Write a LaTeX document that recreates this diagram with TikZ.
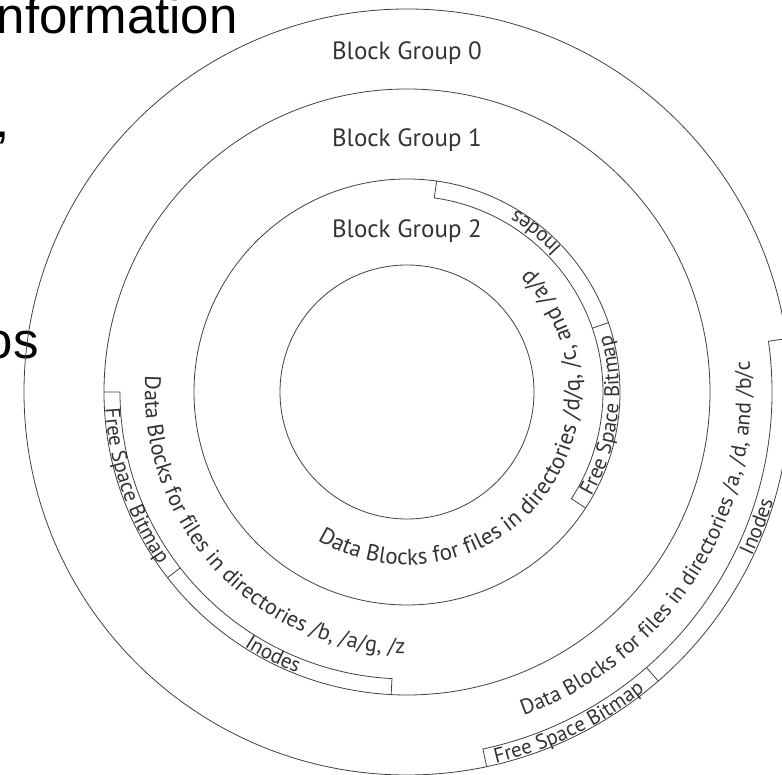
\documentclass[tikz,border=0pt]{standalone}
\usepackage{fontspec}
\setmainfont{PT Sans}
\newfontfamily\slidefont{Liberation Sans}
\usetikzlibrary{decorations.text}

% font used for the labels that run along the rings
\newcommand\ringfont[1]{\fontsize{#1}{#1}\selectfont}

\begin{document}
\begin{tikzpicture}[x=1pt,y=1pt,
  ring/.style={draw=black!75, line width=0.8pt},
  bandline/.style={draw=black!75, line width=0.8pt},
  grouplabel/.style={font=\fontsize{25}{30}\selectfont, text=black!80, anchor=base, inner sep=0pt},
  slide/.style={font=\slidefont\fontsize{51}{60}\selectfont, text=black, inner sep=0pt},
  arclabel/.style 2 args={decorate, decoration={text along path, text={|\ringfont{#1}|#2},
      text align=center, text color=black!80}}
]
\useasboundingbox (-407,-383) rectangle (375,392);

% fragments of slide text behind the diagram
\node[slide, anchor=base west] (title) at (-410.5,358) {nformation};
\node[slide, anchor=base west] (comma) at (-412,254.5) {,};
\node[slide, anchor=base east] (word) at (-368,33) {os};

% the four concentric circles
\draw[ring] (0,0) circle[radius=383];
\draw[ring] (0,0) circle[radius=303];
\draw[ring] (0,0) circle[radius=213];
\draw[ring] (0,0) circle[radius=127];

% group names
\node[grouplabel] (g0) at (0,332) {Block Group 0};
\node[grouplabel] (g1) at (0,245) {Block Group 1};
\node[grouplabel] (g2) at (0,154) {Block Group 2};

% block group 2: inode / bitmap band inside the ring
\draw[bandline] (82:213) -- (82:196) arc[start angle=82, end angle=-33, radius=196] -- (-33:213);
\draw[bandline] (19:196) -- (19:213);
\path[arclabel={21}{Inodes}] (21:212) arc[start angle=21, end angle=81, radius=212];
\path[arclabel={21}{Free Space Bitmap}] (-42:212) arc[start angle=-42, end angle=28, radius=212];
\path[arclabel={23}{Data Blocks for files in directories /d/q, /c, and /a/p}]
  (-160:173) arc[start angle=-160, end angle=84, radius=173];

% block group 1
\draw[bandline] (180:303) -- (180:287) arc[start angle=180, end angle=267, radius=287] -- (267:303);
\draw[bandline] (217.8:287) -- (217.8:303);
\path[arclabel={21}{Free Space Bitmap}] (164:302) arc[start angle=164, end angle=234, radius=302];
\path[arclabel={21}{Inodes}] (213:302) arc[start angle=213, end angle=273, radius=302];
\path[arclabel={22.3}{Data Blocks for files in directories /b, /a/g, /z}]
  (153:262) arc[start angle=153, end angle=293, radius=262];

% block group 0
\draw[bandline] (8:383) -- (8:365) arc[start angle=8, end angle=-78, radius=365] -- (-78:383);
\draw[bandline] (-49:365) -- (-49:383);
\path[arclabel={21}{Free Space Bitmap}] (-84:382) arc[start angle=-84, end angle=-44, radius=382];
\path[arclabel={21}{Inodes}] (-41:382) arc[start angle=-41, end angle=-1, radius=382];
\path[arclabel={21.6}{Data Blocks for files in directories /a, /d, and /b/c}]
  (-92.5:344) arc[start angle=-92.5, end angle=27.5, radius=344];
\end{tikzpicture}
\end{document}
